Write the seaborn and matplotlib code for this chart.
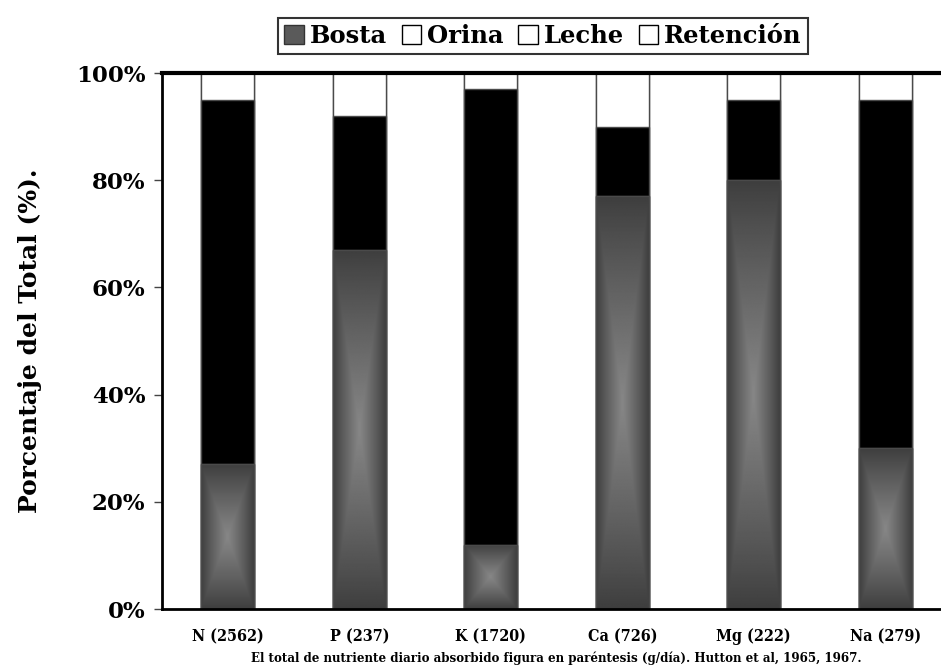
import numpy as np
import pandas as pd
import matplotlib
matplotlib.use("Agg")
import matplotlib.pyplot as plt
import matplotlib.patches as mpatches
import seaborn as sns

categories = ["N (2562)", "P (237)", "K (1720)", "Ca (726)", "Mg (222)", "Na (279)"]
bosta = [27, 67, 12, 77, 80, 30]
orina = [68, 25, 85, 13, 15, 65]
leche = [5, 8, 3, 10, 5, 5]
retencion = [0, 0, 0, 0, 0, 0]
series_names = ["Bosta", "Orina", "Leche", "Retención"]
y_ticks = [0, 20, 40, 60, 80, 100]
y_tick_labels = ["0%", "20%", "40%", "60%", "80%", "100%"]
caption = "El total de nutriente diario absorbido figura en paréntesis (g/día). Hutton et al, 1965, 1967."
ylabel = "Porcentaje del Total (%)."

sns.set_theme(style="white")
plt.rcParams["font.family"] = ["DejaVu Serif", "DejaVu Sans"]
plt.rcParams["text.color"] = "black"
plt.rcParams["axes.labelcolor"] = "black"
plt.rcParams["xtick.color"] = "black"
plt.rcParams["ytick.color"] = "black"

fig = plt.figure(figsize=(9.41, 6.66), dpi=100)
ax = fig.add_axes([162 / 941, 1 - 609 / 666, 789 / 941, (609 - 73) / 666])

b = np.array(bosta, float)
o = np.array(orina, float)
l = np.array(leche, float)
r = np.array(retencion, float)
layers = [
    (b + o + l + r, "white"),
    (b + o + l, "white"),
    (b + o, "black"),
]
edge = "#4a4a4a"
for vals, col in layers:
    sns.barplot(x=categories, y=vals, color=col, saturation=1, width=0.4,
                edgecolor=edge, linewidth=1.0, ax=ax, errorbar=None)
n_before = len(ax.patches)
sns.barplot(x=categories, y=b, color="#555555", saturation=1, width=0.4,
            edgecolor=edge, linewidth=1.0, ax=ax, errorbar=None)
bosta_patches = ax.patches[n_before:]

# rectangular "from center" gradient for Bosta bars
ny, nx = 300, 80
yy, xx = np.mgrid[0:ny, 0:nx]
u = np.abs((xx + 0.5) / nx - 0.5) * 2
v = np.abs((yy + 0.5) / ny - 0.5) * 2
d = np.maximum(u, v)
g = 0.24 + (0.53 - 0.24) * (1 - d) ** 0.9
for p in bosta_patches:
    x0, y0 = p.get_x(), p.get_y()
    w, h = p.get_width(), p.get_height()
    im = ax.imshow(g, cmap="gray", vmin=0, vmax=1, aspect="auto",
                   extent=[x0, x0 + w, y0, y0 + h], interpolation="bilinear",
                   zorder=p.get_zorder() + 0.1)
    im.set_clip_path(p)
    ax.add_patch(mpatches.Rectangle((x0, y0), w, h, fill=False, edgecolor=edge,
                                    linewidth=1.0, zorder=p.get_zorder() + 0.2))

ax.set_xlim(-0.5, 5.5)
ax.set_ylim(0, 100)
ax.set_xlabel("")
ax.set_yticks(y_ticks)
ax.set_yticklabels(y_tick_labels, fontsize=16.5, fontweight="heavy", color="black")
ax.set_ylabel(ylabel, fontsize=18, fontweight="heavy", color="black")
ax.yaxis.set_label_coords(-0.152, 0.5)

ax.set_xticks(range(len(categories)))
ax.set_xticklabels(categories, fontsize=11.5, fontweight="heavy", fontstretch="condensed", color="black")
ax.set_xticks(np.arange(-0.5, len(categories) + 0.5, 1), minor=True)
ax.tick_params(axis="x", which="major", length=0, pad=14)
ax.tick_params(axis="x", which="minor", length=6, width=1, color="black", direction="out")
ax.tick_params(axis="y", which="major", length=6, width=1, color="#444444", direction="out", pad=6, left=True)

for s in ["left", "bottom"]:
    ax.spines[s].set_color("black")
    ax.spines[s].set_linewidth(2)
ax.spines["top"].set_color("black")
ax.spines["top"].set_linewidth(3)
ax.spines["right"].set_visible(False)
for sp in ax.spines.values():
    sp.set_zorder(10)

fig.text((162 + 951) / 2 / 941, 1 - 658 / 666, caption, ha="center", va="center",
         fontsize=8.6, fontweight="heavy", color="black")

handles = [
    mpatches.Patch(facecolor="#5a5a5a", edgecolor="#333333", linewidth=1),
    mpatches.Patch(facecolor="white", edgecolor="black", linewidth=1),
    mpatches.Patch(facecolor="white", edgecolor="black", linewidth=1),
    mpatches.Patch(facecolor="white", edgecolor="black", linewidth=1),
]
leg = fig.legend(handles, series_names, loc="center", bbox_to_anchor=(543 / 941, 1 - 36 / 666),
                 ncol=4, frameon=True, fancybox=False, edgecolor="black",
                 prop={"weight": "heavy", "size": 17.5}, handlelength=0.8, handleheight=0.8,
                 handletextpad=0.25, columnspacing=0.6, borderpad=0.25, borderaxespad=0)
leg.get_frame().set_linewidth(1.5)
for t in leg.get_texts():
    t.set_color("black")

fig.savefig("out.png", dpi=100)
